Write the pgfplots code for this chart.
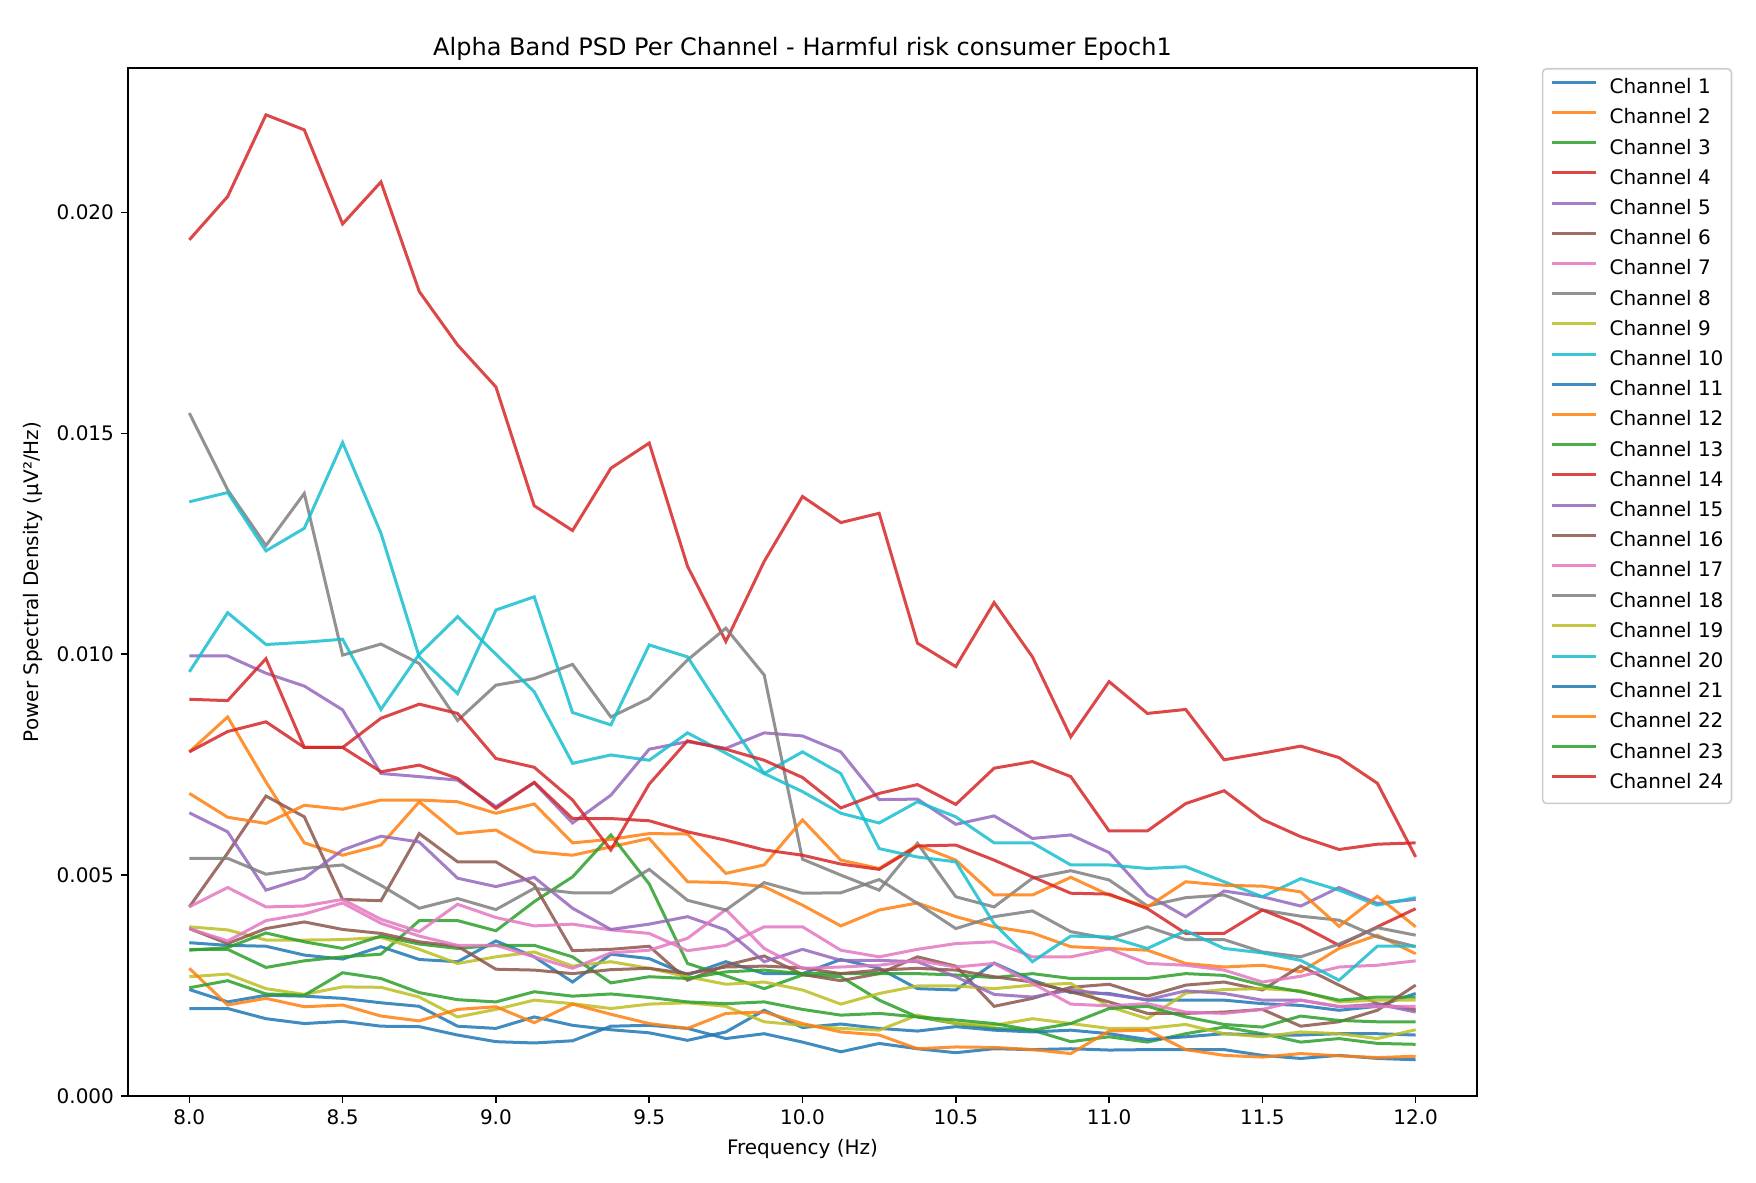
\documentclass[border=0pt]{standalone}
\usepackage{fontspec}
\setmainfont{DejaVu Sans}
\usepackage{pgfplots}
\usepackage{pgfplotstable}
\pgfplotsset{compat=1.18}

% matplotlib tab10
\definecolor{tabblue}{HTML}{1F77B4}
\definecolor{taborange}{HTML}{FF7F0E}
\definecolor{tabgreen}{HTML}{2CA02C}
\definecolor{tabred}{HTML}{D62728}
\definecolor{tabpurple}{HTML}{9467BD}
\definecolor{tabbrown}{HTML}{8C564B}
\definecolor{tabpink}{HTML}{E377C2}
\definecolor{tabgray}{HTML}{7F7F7F}
\definecolor{tabolive}{HTML}{BCBD22}
\definecolor{tabcyan}{HTML}{17BECF}

\pgfplotscreateplotcyclelist{tab}{
  {tabblue},{taborange},{tabgreen},{tabred},{tabpurple},
  {tabbrown},{tabpink},{tabgray},{tabolive},{tabcyan}}

% PSD per channel, in units of 1e-3 uV^2/Hz, one row per channel
\pgfplotstableread{
ch 8.000 8.125 8.250 8.375 8.500 8.625 8.750 8.875 9.000 9.125 9.250 9.375 9.500 9.625 9.750 9.875 10.000 10.125 10.250 10.375 10.500 10.625 10.750 10.875 11.000 11.125 11.250 11.375 11.500 11.625 11.750 11.875 12.000
c1  3.47 3.41 3.39 3.19 3.10 3.38 3.09 3.04 3.51 3.15 2.58 3.21 3.11 2.74 3.04 2.77 2.77 3.09 2.89 2.43 2.40 3.01 2.62 2.34 2.32 2.17 2.17 2.17 2.09 2.05 1.94 2.03 2.32
c2  7.79 8.58 7.11 5.73 5.45 5.68 6.66 5.94 6.02 5.53 5.45 5.64 5.83 4.85 4.83 4.74 4.32 3.85 4.21 4.37 4.06 3.83 3.69 3.38 3.34 3.30 3.00 2.92 2.96 2.81 3.34 3.64 3.22
c3  3.32 3.32 2.91 3.06 3.15 3.21 3.97 3.97 3.74 4.40 4.96 5.91 4.80 3.00 2.72 2.43 2.74 2.70 2.17 1.79 1.64 1.53 1.49 1.23 1.34 1.22 1.41 1.56 1.41 1.22 1.30 1.19 1.17
c4  19.38 20.36 22.21 21.87 19.74 20.69 18.21 17.00 16.05 13.36 12.80 14.21 14.78 11.99 10.29 12.10 13.57 12.98 13.19 10.25 9.72 11.17 9.94 8.13 9.38 8.66 8.75 7.61 7.76 7.92 7.66 7.08 5.41
c5  9.96 9.96 9.57 9.28 8.74 7.30 7.23 7.15 6.55 7.09 6.18 6.81 7.85 8.02 7.87 8.22 8.15 7.79 6.71 6.72 6.15 6.34 5.83 5.91 5.51 4.55 4.06 4.64 4.51 4.30 4.72 4.36 4.45
c6  4.28 5.50 6.79 6.32 4.45 4.42 5.94 5.30 5.30 4.78 3.29 3.32 3.39 2.62 2.96 3.17 2.75 2.61 2.77 3.15 2.94 2.03 2.21 2.46 2.53 2.26 2.51 2.58 2.40 2.94 2.51 2.09 1.95
c7  4.28 4.72 4.28 4.30 4.45 4.00 3.72 4.34 4.04 3.85 3.89 3.76 3.68 3.29 3.41 3.83 3.83 3.30 3.15 3.32 3.45 3.49 3.15 3.15 3.33 3.00 2.96 2.85 2.58 2.71 2.92 2.96 3.06
c8  15.46 13.72 12.46 13.64 9.98 10.23 9.79 8.50 9.30 9.45 9.77 8.58 9.00 9.87 10.59 9.53 5.36 5.00 4.66 5.72 4.51 4.28 4.93 5.10 4.89 4.30 4.49 4.55 4.21 4.07 3.98 3.60 3.38
c9  3.83 3.76 3.53 3.53 3.54 3.59 3.32 3.00 3.15 3.26 2.94 3.04 2.89 2.70 2.53 2.58 2.40 2.08 2.32 2.49 2.49 2.43 2.51 2.55 2.02 1.75 2.33 2.41 2.43 2.38 2.13 2.17 2.17
c10 13.45 13.66 12.34 12.85 14.79 12.74 9.94 9.11 11.00 11.30 8.68 8.40 10.21 9.94 8.60 7.30 6.89 6.40 6.18 6.66 6.32 5.73 5.73 5.23 5.23 5.15 5.19 4.85 4.51 4.92 4.66 4.32 4.49
c11 2.41 2.13 2.28 2.26 2.21 2.11 2.03 1.58 1.53 1.79 1.60 1.50 1.43 1.26 1.45 1.94 1.55 1.63 1.53 1.47 1.57 1.49 1.45 1.49 1.41 1.28 1.34 1.41 1.38 1.38 1.41 1.41 1.38
c12 6.85 6.31 6.17 6.58 6.49 6.70 6.70 6.66 6.40 6.61 5.73 5.81 5.94 5.93 5.04 5.23 6.25 5.34 5.15 5.68 5.34 4.55 4.55 4.95 4.55 4.28 4.85 4.77 4.75 4.62 3.84 4.52 3.83
c13 3.30 3.36 3.69 3.49 3.34 3.62 3.44 3.34 3.41 3.41 3.15 2.56 2.70 2.66 2.81 2.85 2.77 2.77 2.77 2.77 2.74 2.68 2.77 2.66 2.66 2.66 2.77 2.73 2.51 2.36 2.17 2.24 2.24
c14 8.98 8.95 9.90 7.89 7.89 7.34 7.49 7.19 6.51 7.10 6.28 6.28 6.23 5.98 5.79 5.57 5.45 5.25 5.13 5.66 5.68 5.34 4.96 4.59 4.57 4.24 3.68 3.68 4.21 3.87 3.41 3.83 4.24
c15 6.41 5.98 4.66 4.93 5.57 5.88 5.75 4.93 4.74 4.95 4.25 3.77 3.89 4.06 3.76 3.04 3.32 3.07 3.07 3.04 2.70 2.30 2.24 2.40 2.30 2.18 2.38 2.32 2.17 2.17 2.02 2.08 1.90
c16 3.79 3.45 3.79 3.94 3.77 3.68 3.49 3.39 2.87 2.85 2.77 2.86 2.89 2.77 2.92 2.94 2.90 2.77 2.85 2.89 2.85 2.70 2.58 2.36 2.13 1.87 1.87 1.90 1.96 1.58 1.68 1.94 2.51
c17 3.79 3.51 3.97 4.12 4.37 3.91 3.62 3.41 3.41 3.15 2.89 3.24 3.30 3.57 4.22 3.34 2.89 2.92 2.96 3.07 2.92 3.00 2.55 2.08 2.04 2.09 1.90 1.87 1.96 2.17 2.03 2.02 2.03
c18 5.38 5.38 5.02 5.15 5.23 4.77 4.25 4.47 4.22 4.70 4.60 4.60 5.13 4.43 4.21 4.83 4.59 4.60 4.90 4.36 3.79 4.06 4.19 3.72 3.56 3.83 3.54 3.54 3.26 3.15 3.44 3.81 3.64
c19 2.70 2.76 2.43 2.30 2.47 2.46 2.24 1.79 1.96 2.17 2.09 1.98 2.08 2.11 2.03 1.68 1.60 1.53 1.49 1.83 1.64 1.60 1.75 1.64 1.53 1.53 1.62 1.41 1.34 1.45 1.41 1.30 1.50
c20 9.60 10.94 10.22 10.27 10.34 8.75 10.00 10.85 10.00 9.15 7.53 7.72 7.60 8.22 7.76 7.30 7.79 7.30 5.60 5.41 5.30 3.90 3.04 3.62 3.60 3.34 3.74 3.34 3.24 3.07 2.62 3.39 3.39
c21 1.98 1.98 1.75 1.64 1.69 1.58 1.57 1.38 1.23 1.20 1.25 1.58 1.60 1.53 1.30 1.41 1.22 1.00 1.19 1.07 0.98 1.07 1.05 1.07 1.04 1.05 1.05 1.05 0.92 0.85 0.92 0.85 0.82
c22 2.89 2.06 2.21 2.02 2.06 1.81 1.70 1.96 2.02 1.66 2.08 1.85 1.64 1.53 1.87 1.90 1.64 1.45 1.38 1.07 1.11 1.10 1.05 0.96 1.47 1.49 1.05 0.92 0.88 0.96 0.91 0.87 0.90
c23 2.45 2.61 2.31 2.28 2.79 2.66 2.34 2.18 2.13 2.36 2.26 2.31 2.23 2.13 2.09 2.13 1.96 1.83 1.87 1.79 1.72 1.64 1.49 1.64 1.98 2.03 1.79 1.62 1.56 1.81 1.71 1.68 1.68
c24 7.79 8.25 8.47 7.89 7.89 8.55 8.87 8.66 7.64 7.44 6.70 5.57 7.06 8.04 7.85 7.60 7.21 6.52 6.85 7.05 6.60 7.42 7.57 7.23 6.00 6.00 6.62 6.91 6.26 5.87 5.58 5.70 5.73
}\rawpsd
\pgfplotstabletranspose[colnames from=ch]\psd\rawpsd

\begin{document}
\begin{tikzpicture}
\path[use as bounding box] (0,0) rectangle (878pt,591.5pt);
\begin{axis}[
  at={(64pt,43.5pt)}, anchor=south west,
  scale only axis, width=674.5pt, height=514pt,
  xmin=7.8, xmax=12.2, ymin=0, ymax=23.27,
  xtick={8,8.5,9,9.5,10,10.5,11,11.5,12},
  xticklabel style={/pgf/number format/.cd, fixed, fixed zerofill, precision=1},
  ytick={0,5,10,15,20},
  yticklabels={0.000,0.005,0.010,0.015,0.020},
  /pgf/number format/assume math mode=true,
  tick align=outside, tick pos=left, major tick length=3.5pt,
  axis line style={line width=0.8pt},
  every tick/.style={black, line width=0.8pt},
  tick label style={font=\fontsize{10}{12}\selectfont},
  title={Alpha Band PSD Per Channel - Harmful risk consumer Epoch1},
  title style={font=\fontsize{12}{14}\selectfont, yshift=-6pt},
  xlabel={Frequency (Hz)},
  ylabel={Power Spectral Density (µV²/Hz)},
  label style={font=\fontsize{10}{12}\selectfont},
  cycle list name=tab,
  every axis plot/.append style={line width=1.5pt, opacity=0.85},
  legend cell align=left,
  legend image code/.code={\draw[#1] (0pt,0.6ex) -- (22pt,0.6ex);},
  legend style={at={(1.048,1.0)}, anchor=north west,
    draw=black!20, rounded corners=2pt, line width=0.8pt,
    font=\fontsize{10}{12}\selectfont,
    inner xsep=4pt, inner ysep=5pt, row sep=5.1pt, column sep=6pt,
    nodes={inner sep=0pt, text height=7.5pt, text depth=2.5pt}},
]
\addplot table[x=colnames, y=c1] {\psd};  \addlegendentry{Channel 1}
\addplot table[x=colnames, y=c2] {\psd};  \addlegendentry{Channel 2}
\addplot table[x=colnames, y=c3] {\psd};  \addlegendentry{Channel 3}
\addplot table[x=colnames, y=c4] {\psd};  \addlegendentry{Channel 4}
\addplot table[x=colnames, y=c5] {\psd};  \addlegendentry{Channel 5}
\addplot table[x=colnames, y=c6] {\psd};  \addlegendentry{Channel 6}
\addplot table[x=colnames, y=c7] {\psd};  \addlegendentry{Channel 7}
\addplot table[x=colnames, y=c8] {\psd};  \addlegendentry{Channel 8}
\addplot table[x=colnames, y=c9] {\psd};  \addlegendentry{Channel 9}
\addplot table[x=colnames, y=c10] {\psd}; \addlegendentry{Channel 10}
\addplot table[x=colnames, y=c11] {\psd}; \addlegendentry{Channel 11}
\addplot table[x=colnames, y=c12] {\psd}; \addlegendentry{Channel 12}
\addplot table[x=colnames, y=c13] {\psd}; \addlegendentry{Channel 13}
\addplot table[x=colnames, y=c14] {\psd}; \addlegendentry{Channel 14}
\addplot table[x=colnames, y=c15] {\psd}; \addlegendentry{Channel 15}
\addplot table[x=colnames, y=c16] {\psd}; \addlegendentry{Channel 16}
\addplot table[x=colnames, y=c17] {\psd}; \addlegendentry{Channel 17}
\addplot table[x=colnames, y=c18] {\psd}; \addlegendentry{Channel 18}
\addplot table[x=colnames, y=c19] {\psd}; \addlegendentry{Channel 19}
\addplot table[x=colnames, y=c20] {\psd}; \addlegendentry{Channel 20}
\addplot table[x=colnames, y=c21] {\psd}; \addlegendentry{Channel 21}
\addplot table[x=colnames, y=c22] {\psd}; \addlegendentry{Channel 22}
\addplot table[x=colnames, y=c23] {\psd}; \addlegendentry{Channel 23}
\addplot table[x=colnames, y=c24] {\psd}; \addlegendentry{Channel 24}
\end{axis}
\end{tikzpicture}
\end{document}
